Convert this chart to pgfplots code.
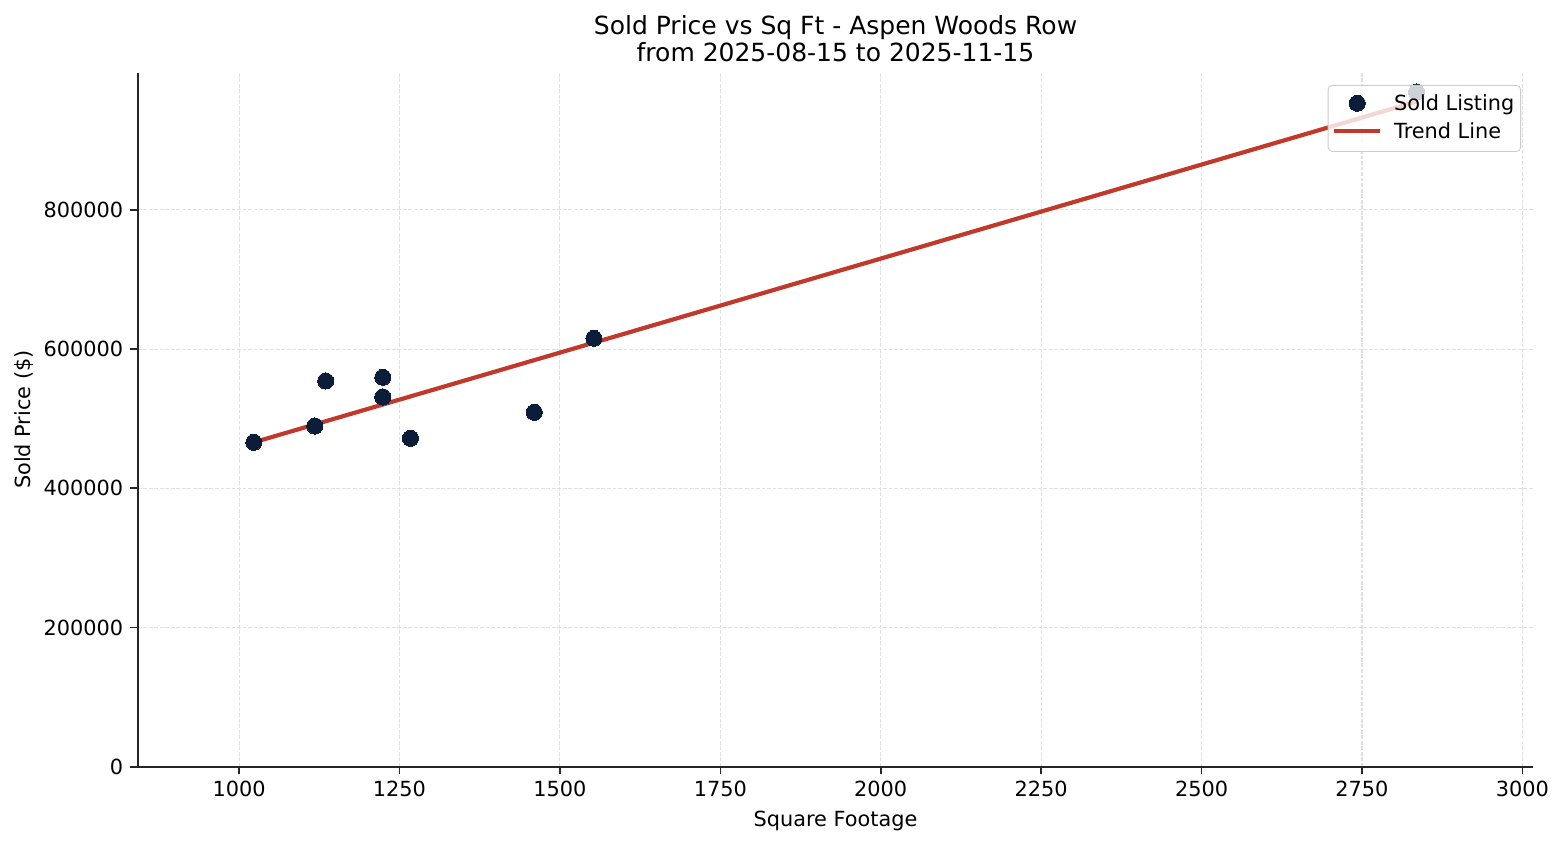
\documentclass[border=0pt]{standalone}
\usepackage{fontspec}
\setmainfont{DejaVu Sans}
\usepackage{pgfplots}
\pgfplotsset{compat=1.18}
\definecolor{ptcol}{HTML}{0B1D38}
\definecolor{trcol}{HTML}{C0392B}
\begin{document}
\fontsize{10}{12}\selectfont
\begin{tikzpicture}
\useasboundingbox (-66.1pt,-37.58pt) rectangle (683.66pt,368.02pt);
\begin{axis}[
  at={(0,0)}, anchor=south west,
  scale only axis, width=669.89pt, height=333.12pt,
  xmin=842, xmax=3017, ymin=0, ymax=997000,
  xtick={1000,1250,...,3000},
  ytick={0,200000,400000,600000,800000},
  scaled y ticks=false, scaled x ticks=false,
  /pgf/number format/assume math mode=true,
  xticklabel style={/pgf/number format/.cd, fixed, 1000 sep={}},
  yticklabel style={/pgf/number format/.cd, fixed, 1000 sep={}},
  every tick label/.append style={font=\fontsize{10}{12}\selectfont},
  axis x line*=bottom, axis y line*=left,
  axis line style={-, line width=0.8pt, black!85},
  xtick pos=bottom, ytick pos=left,
  tick align=outside, major tick length=3.5pt,
  tick style={line width=0.8pt, black!85},
  grid=major,
  major grid style={dash pattern=on 1.85pt off 0.8pt, line width=0.5pt, black!12},
  xlabel={Square Footage},
  ylabel={Sold Price (\$)},
  xlabel style={at={(axis description cs:0.5,0)}, anchor=base, yshift=-28.5pt, inner sep=0pt, font=\fontsize{10}{12}\selectfont},
  ylabel style={at={(axis description cs:0,0.5)}, anchor=base, yshift=51.5pt, inner sep=0pt, font=\fontsize{10}{12}\selectfont},
  title={Sold Price vs Sq Ft - Aspen Woods Row\\from 2025-08-15 to 2025-11-15},
  title style={at={(axis description cs:0.5,1)}, anchor=south, yshift=-1.1pt, inner sep=0pt, align=center, font=\fontsize{12}{13.2}\selectfont},
  legend cell align=left,
  legend image code/.code={\path[use as bounding box, draw=none, fill=none] (0pt,0pt) rectangle (22pt,5pt);
    \draw[mark repeat=2,mark phase=2,#1, fill opacity=1, draw opacity=1] plot coordinates {(0pt,3.6pt)(11pt,3.6pt)(22pt,3.6pt)};},
  legend style={at={(axis description cs:1,1)}, anchor=north east, xshift=-5.9pt, yshift=-5.9pt,
    draw=black!20, rounded corners=2pt, fill=white, fill opacity=0.8, text opacity=1,
    inner xsep=3pt, inner ysep=4.85pt, row sep=4.84pt, column sep=6.7pt,
    nodes={inner sep=0pt, text height=7.3pt, text depth=1.3pt, anchor=base west},
    font=\fontsize{10}{12}\selectfont},
]
\addplot[only marks, mark=*, mark size=3.87pt, color=ptcol, mark options={draw=ptcol, fill=ptcol, line width=0pt}] coordinates {
  (1023,466000) (1118,489400) (1135,554100) (1224,559400) (1224,531100)
  (1267,471800) (1460,509100) (1553,615400) (2835,969300)
};
\addlegendentry{Sold Listing}
\addplot[trcol, line width=2pt, mark=none] coordinates {(1023,466000) (2835,955500)};
\addlegendentry{Trend Line}
\end{axis}
\end{tikzpicture}
\end{document}
